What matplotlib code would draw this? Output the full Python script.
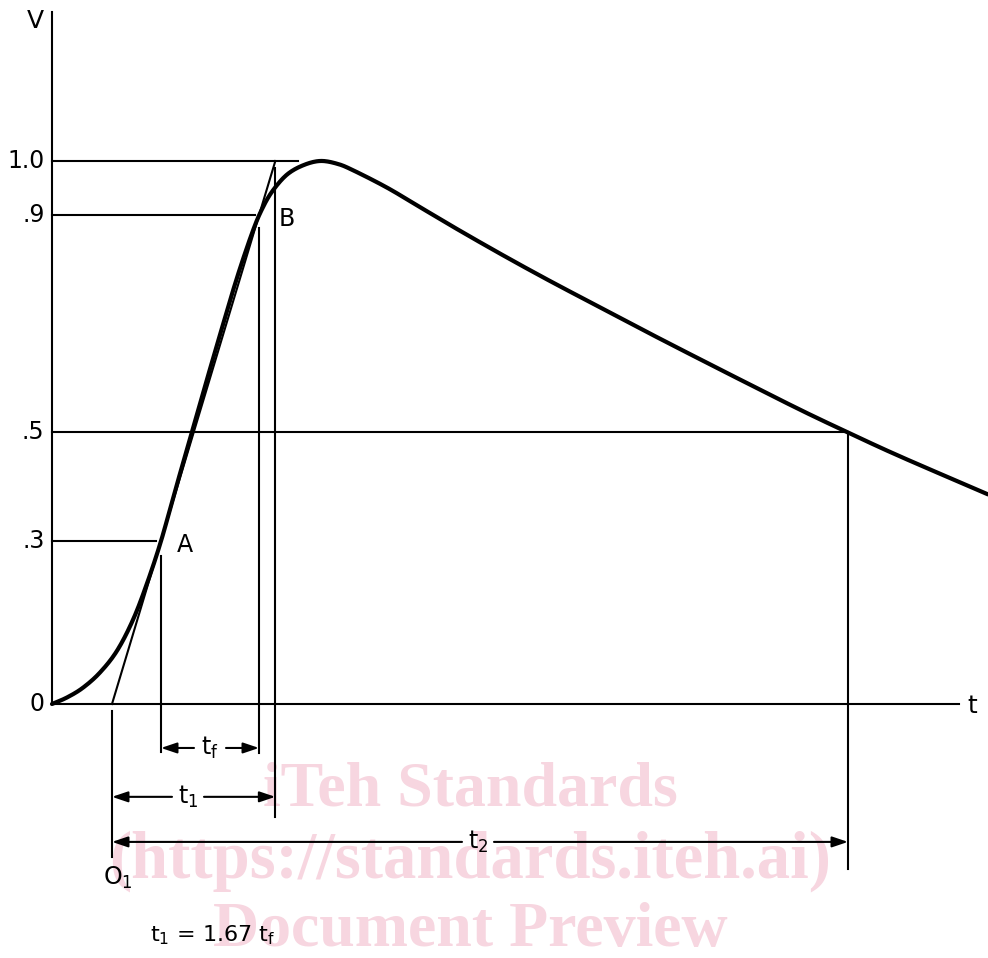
import matplotlib
matplotlib.use("Agg")
import matplotlib.pyplot as plt
import numpy as np

plt.rcParams['font.family'] = ['DejaVu Sans']
plt.rcParams['mathtext.default'] = 'regular'

# impulse voltage curve (schematic time units, per-unit voltage)
curve_t = [0, 0.15, 0.31, 0.48, 0.65, 0.81, 0.95, 1.09, 1.23, 1.38, 1.53, 1.68, 1.85,
           2.01, 2.11, 2.21, 2.35, 2.51, 2.68, 2.85, 3.01, 3.35, 3.68, 4.01,
           4.35, 4.68, 5.01, 5.35, 5.68, 6.15, 6.81, 7.48, 7.96, 8.48, 9.36]
curve_v = [0, 0.012, 0.030, 0.058, 0.098, 0.155, 0.222, 0.300, 0.392, 0.488, 0.585, 0.680, 0.785,
           0.872, 0.915, 0.946, 0.975, 0.992, 1.0, 0.995, 0.983, 0.951, 0.915, 0.879,
           0.843, 0.809, 0.776, 0.743, 0.711, 0.666, 0.604, 0.542, 0.5, 0.456, 0.386]

tick_values = [1.0, 0.9, 0.5, 0.3, 0.0]
tick_labels = ["1.0", ".9", ".5", ".3", "0"]

t_A = 1.09      # time at 0.3 (point A)
t_B = 2.07      # time at 0.9 (point B)
t_half = 7.96   # time at 0.5 on the tail
v_A, v_B = 0.3, 0.9

# derived from the straight line through A and B
slope = (v_B - v_A) / (t_B - t_A)
t_O1 = t_A - v_A / slope
t_1end = t_A + (1.0 - v_A) / slope


def smooth(xs, ys, n=20):
    """Catmull-Rom rendering through the read points (for a smooth stroke)."""
    P = np.column_stack([xs, ys]).astype(float)
    P = np.vstack([2 * P[0] - P[1], P, 2 * P[-1] - P[-2]])
    out = []
    s = np.linspace(0, 1, n, endpoint=False)[:, None]
    for i in range(1, len(P) - 2):
        p0, p1, p2, p3 = P[i - 1], P[i], P[i + 1], P[i + 2]
        seg = 0.5 * ((2 * p1) + (-p0 + p2) * s + (2 * p0 - 5 * p1 + 4 * p2 - p3) * s ** 2
                     + (-p0 + 3 * p1 - 3 * p2 + p3) * s ** 3)
        out.append(seg)
    out.append(P[-2][None, :])
    out = np.vstack(out)
    return out[:, 0], out[:, 1]


fig = plt.figure(figsize=(9.88, 9.58), dpi=100)
ax = fig.add_axes([0, 0, 1, 1])
ax.set_xlim(-0.52, 9.36)
ax.set_ylim(-0.4678, 1.2965)
ax.axis('off')

K = 'black'
lw_thin = 1.5
FS = 17

# watermark
wm_col = '#f7d6e0'
for txt, y, fs in [("iTeh Standards", -0.160, 46), ("(https://standards.iteh.ai)", -0.290, 48),
                   ("Document Preview", -0.418, 46)]:
    ax.text(4.18, y, txt, ha='center', va='center', fontsize=fs, fontweight='bold',
            family=['Liberation Serif', 'DejaVu Serif'], color=wm_col, zorder=0)

# axes
ax.plot([0, 0], [0, 1.274], color=K, lw=lw_thin, zorder=3)
ax.plot([0, 9.07], [0, 0], color=K, lw=lw_thin, zorder=3)
ax.text(-0.165, 1.258, "V", ha='center', va='center', fontsize=FS + 1)
ax.text(9.20, -0.004, "t", ha='center', va='center', fontsize=FS + 1)

for v, lab in zip(tick_values, tick_labels):
    ax.text(-0.075, v, lab, ha='right', va='center', fontsize=FS)

# horizontal reference lines
ax.plot([0, t_1end + 0.23], [1.0, 1.0], color=K, lw=lw_thin)
ax.plot([0, t_B - 0.04], [0.9, 0.9], color=K, lw=lw_thin)
ax.plot([0, t_half], [0.5, 0.5], color=K, lw=lw_thin)
ax.plot([0, t_A - 0.05], [0.3, 0.3], color=K, lw=lw_thin)

# vertical lines
ax.plot([t_A, t_A], [0.273, -0.089], color=K, lw=lw_thin)
ax.plot([t_B, t_B], [0.877, -0.091], color=K, lw=lw_thin)
ax.plot([t_1end, t_1end], [0.987, -0.208], color=K, lw=lw_thin)
ax.plot([t_O1, t_O1], [-0.013, -0.282], color=K, lw=lw_thin)
ax.plot([t_half, t_half], [0.5, -0.304], color=K, lw=lw_thin)

# tangent line through A and B
ax.plot([t_O1, t_1end], [0, 1.0], color=K, lw=lw_thin, zorder=4)

# curve
sx, sy = smooth(curve_t, curve_v)
ax.plot(sx, sy, color=K, lw=3.0, solid_joinstyle='round',
        solid_capstyle='round', zorder=5)

ax.text(t_A + 0.24, 0.293, "A", ha='center', va='center', fontsize=FS)
ax.text(t_B + 0.28, 0.893, "B", ha='center', va='center', fontsize=FS)


def dim(x0, x1, y, label, xc, gap=0.16, fs=FS):
    ap = dict(arrowstyle='-|>,head_length=0.95,head_width=0.32', color=K, lw=lw_thin,
              shrinkA=0, shrinkB=0, mutation_scale=10)
    ax.annotate('', xy=(x0, y), xytext=(xc - gap, y), arrowprops=ap)
    ax.annotate('', xy=(x1, y), xytext=(xc + gap, y), arrowprops=ap)
    ax.text(xc, y, label, ha='center', va='center', fontsize=fs)


dim(t_A, t_B, -0.081, r"t$_f$", 1.58)
dim(t_O1, t_1end, -0.171, r"t$_1$", 1.36)
dim(t_O1, t_half, -0.254, r"t$_2$", 4.26)

ax.text(0.51, -0.32, r"O$_1$", ha='left', va='center', fontsize=FS)
ax.text(0.98, -0.425, r"t$_1$ = 1.67 t$_f$", ha='left', va='center', fontsize=16)

fig.savefig("out.png", dpi=100)
